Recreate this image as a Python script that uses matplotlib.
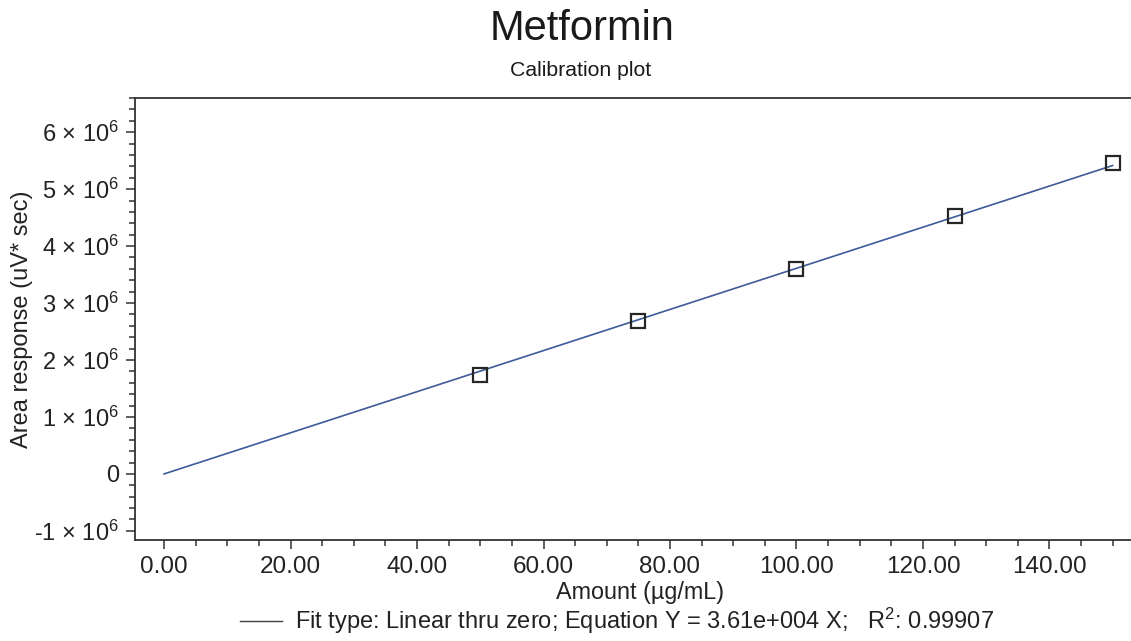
import matplotlib
matplotlib.use("Agg")
import matplotlib.pyplot as plt
from matplotlib.lines import Line2D
from matplotlib.ticker import MultipleLocator, FixedLocator
import numpy as np

plt.rcParams['font.family'] = ['Liberation Sans', 'DejaVu Sans']
plt.rcParams['mathtext.default'] = 'regular'

# Data
amounts = [50.0, 75.0, 100.0, 125.0, 150.0]
responses = [1.74e6, 2.68e6, 3.60e6, 4.52e6, 5.46e6]
slope = 3.61e4
fit_x = [0.0, 150.0]
y_ticks = [-1e6, 0, 1e6, 2e6, 3e6, 4e6, 5e6, 6e6]
y_tick_labels = ['-1 × 10$^{6}$', '0', '1 × 10$^{6}$', '2 × 10$^{6}$', '3 × 10$^{6}$',
                 '4 × 10$^{6}$', '5 × 10$^{6}$', '6 × 10$^{6}$']
x_ticks = [0, 20, 40, 60, 80, 100, 120, 140]
x_tick_labels = ['0.00', '20.00', '40.00', '60.00', '80.00', '100.00', '120.00', '140.00']
title = 'Metformin'
subtitle = 'Calibration plot'
legend_label = 'Fit type: Linear thru zero; Equation Y = 3.61e+004 X;   R$^{2}$: 0.99907'

W, H = 1131, 641
fig = plt.figure(figsize=(W / 100, H / 100), dpi=100)
left, right, top, bottom = 135, 1131, 98, 540
ax = fig.add_axes([left / W, 1 - bottom / H, (right - left) / W, (bottom - top) / H])

spine_c = '#333333'
fit_y = [slope * x for x in fit_x]
ax.plot(fit_x, fit_y, color='#3d5a99', lw=1.2, zorder=2)
ax.plot(amounts, responses, linestyle='none', marker='s', markersize=10.5,
        markerfacecolor='none', markeredgecolor='#262626', markeredgewidth=1.6, zorder=3)

ax.set_xlim(-4.6, 152.9)
ax.set_ylim(-1.16e6, 6.6e6)

ax.yaxis.set_major_locator(FixedLocator(y_ticks))
ax.set_yticklabels(y_tick_labels)
ax.yaxis.set_minor_locator(MultipleLocator(2e5))
ax.xaxis.set_major_locator(FixedLocator(x_ticks))
ax.set_xticklabels(x_tick_labels)
ax.xaxis.set_minor_locator(MultipleLocator(5))

for s in ['left', 'top', 'bottom']:
    ax.spines[s].set_color(spine_c)
    ax.spines[s].set_linewidth(1.3)
ax.spines['right'].set_visible(False)

ax.tick_params(axis='both', which='major', direction='out', length=6.5, width=1.1,
               color=spine_c, labelsize=17.5, labelcolor='#222222', pad=5)
ax.tick_params(axis='y', which='major', labelsize=17)
ax.tick_params(axis='both', which='minor', direction='out', length=4, width=1.1, color=spine_c)
ax.tick_params(top=False, right=False, which='both')

ax.set_xlabel('Amount (µg/mL)', fontsize=16.8, color='#222222')
ax.xaxis.set_label_coords((640 - left) / (right - left), -0.093)
ax.set_ylabel('Area response (uV* sec)', fontsize=17, color='#222222')
ax.yaxis.set_label_coords((33 - left) / (right - left), 0.5)

fig.text(582 / W, 1 - 29 / H, title, fontsize=30, ha='center', va='center', color='#1a1a1a')
fig.text(581 / W, 1 - 70 / H, subtitle, fontsize=15.3, ha='center', va='center', color='#1a1a1a')

handle = Line2D([], [], color='#404040', lw=1.0)
fig.legend([handle], [legend_label], loc='center', bbox_to_anchor=(617 / W, 1 - 621 / H),
           frameon=False, fontsize=17, handlelength=1.8, handletextpad=0.55,
           borderpad=0, labelcolor='#222222')

fig.savefig('out.png', dpi=100)
